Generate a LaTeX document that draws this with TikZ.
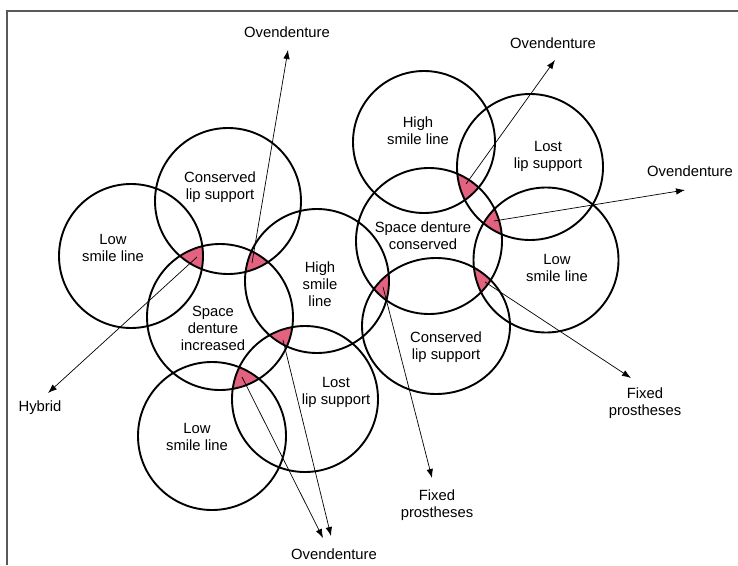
\documentclass[tikz,border=0pt]{standalone}
\usepackage{fontspec}
\setmainfont{Liberation Sans}
\usetikzlibrary{arrows.meta}
\definecolor{lensred}{RGB}{226,98,128}

\begin{document}
\begin{tikzpicture}[x=1pt,y=-1pt,
    ring/.style={line width=1.9pt},
    txt/.style={align=center,font=\fontsize{14.8}{17}\selectfont,inner sep=0pt},
    arr/.style={-{Latex[length=9pt,width=6.5pt]},line width=0.7pt},
    lens/.style={fill=lensred}]
  \useasboundingbox (0,0) rectangle (738,565);
  \draw[gray!70!black,line width=1.2pt] (7,565) -- (7,11) -- (738,11);

  \coordinate (lowL) at (131,256);
  \coordinate (lipL) at (228,201);
  \coordinate (spaceL) at (220,317);
  \coordinate (highM) at (317,281);
  \coordinate (lostM) at (305,399);
  \coordinate (lowB) at (212,436);
  \coordinate (highR) at (424,142);
  \coordinate (lostR) at (530,167);
  \coordinate (spaceR) at (429,241);
  \coordinate (lowR) at (546,260);
  \coordinate (lipR) at (436,326);

  \begin{scope}
    \clip (lowL) circle[radius=72pt];
    \clip (lipL) circle[radius=73pt];
    \fill[lens] (spaceL) circle[radius=73pt];
  \end{scope}
  \begin{scope}
    \clip (lipL) circle[radius=73pt];
    \clip (spaceL) circle[radius=73pt];
    \fill[lens] (highM) circle[radius=72pt];
  \end{scope}
  \begin{scope}
    \clip (spaceL) circle[radius=73pt];
    \clip (highM) circle[radius=72pt];
    \fill[lens] (lostM) circle[radius=73pt];
  \end{scope}
  \begin{scope}
    \clip (spaceL) circle[radius=73pt];
    \clip (lostM) circle[radius=73pt];
    \fill[lens] (lowB) circle[radius=74pt];
  \end{scope}
  \begin{scope}
    \clip (highR) circle[radius=71pt];
    \clip (lostR) circle[radius=73pt];
    \fill[lens] (spaceR) circle[radius=73pt];
  \end{scope}
  \begin{scope}
    \clip (lostR) circle[radius=73pt];
    \clip (spaceR) circle[radius=73pt];
    \fill[lens] (lowR) circle[radius=72.5pt];
  \end{scope}
  \begin{scope}
    \clip (spaceR) circle[radius=73pt];
    \clip (lipR) ellipse[x radius=74pt,y radius=68pt];
    \fill[lens] (highM) circle[radius=72pt];
  \end{scope}
  \begin{scope}
    \clip (spaceR) circle[radius=73pt];
    \clip (lipR) ellipse[x radius=74pt,y radius=68pt];
    \fill[lens] (lowR) circle[radius=72.5pt];
  \end{scope}

  \draw[ring] (lowL) circle[radius=72pt];
  \draw[ring] (lipL) circle[radius=73pt];
  \draw[ring] (spaceL) circle[radius=73pt];
  \draw[ring] (highM) circle[radius=72pt];
  \draw[ring] (lostM) circle[radius=73pt];
  \draw[ring] (lowB) circle[radius=74pt];
  \draw[ring] (highR) circle[radius=71pt];
  \draw[ring] (lostR) circle[radius=73pt];
  \draw[ring] (spaceR) circle[radius=73pt];
  \draw[ring] (lowR) circle[radius=72.5pt];
  \draw[ring] (lipR) ellipse[x radius=74pt,y radius=68pt];

  \node[txt] (tLowL) at (113,248) {Low\\smile line};
  \node[txt] (tLipL) at (220,187) {Conserved\\lip support};
  \node[txt] (tSpaceL) at (213,328) {Space\\denture\\increased};
  \node[txt] (tHighM) at (320,284) {High\\smile\\line};
  \node[txt] (tLostM) at (336,392) {Lost\\lip support};
  \node[txt] (tLowB) at (197,437) {Low\\smile line};
  \node[txt] (tHighR) at (418,131) {High\\smile line};
  \node[txt] (tLostR) at (548,156) {Lost\\lip support};
  \node[txt] (tSpaceR) at (423,236) {Space denture\\conserved};
  \node[txt] (tLowR) at (557,268) {Low\\smile line};
  \node[txt] (tLipR) at (446,347) {Conserved\\lip support};

  \node[txt] (ovA) at (287,32) {Ovendenture};
  \node[txt] (hyb) at (40,408) {Hybrid};
  \node[txt] (ovB) at (334,554) {Ovendenture};
  \node[txt] (ovC) at (553,43) {Ovendenture};
  \node[txt] (ovD) at (690,171) {Ovendenture};
  \node[txt] (fixA) at (437,505) {Fixed\\prostheses};
  \node[txt] (fixB) at (645,403) {Fixed\\prostheses};

  \coordinate (p1) at (197,257);
  \coordinate (p2) at (252,263);
  \coordinate (p3) at (283,340);
  \coordinate (p4) at (242,377);
  \coordinate (p5) at (466,184);
  \coordinate (p6) at (494,221);
  \coordinate (p7) at (383,287);
  \coordinate (p8) at (485,282);
  \coordinate (h1) at (48,393);
  \coordinate (o1) at (288,50);
  \coordinate (o2) at (331,536);
  \coordinate (o3) at (323,538);
  \coordinate (o4) at (555,60);
  \coordinate (o5) at (685,190);
  \coordinate (f1) at (432,478);
  \coordinate (f2) at (631,378);

  \draw[arr] (p1) -- (h1);
  \draw[arr] (p2) -- (o1);
  \draw[arr] (p3) -- (o2);
  \draw[arr] (p4) -- (o3);
  \draw[arr] (p5) -- (o4);
  \draw[arr] (p6) -- (o5);
  \draw[arr] (p7) -- (f1);
  \draw[arr] (p8) -- (f2);
\end{tikzpicture}
\end{document}
